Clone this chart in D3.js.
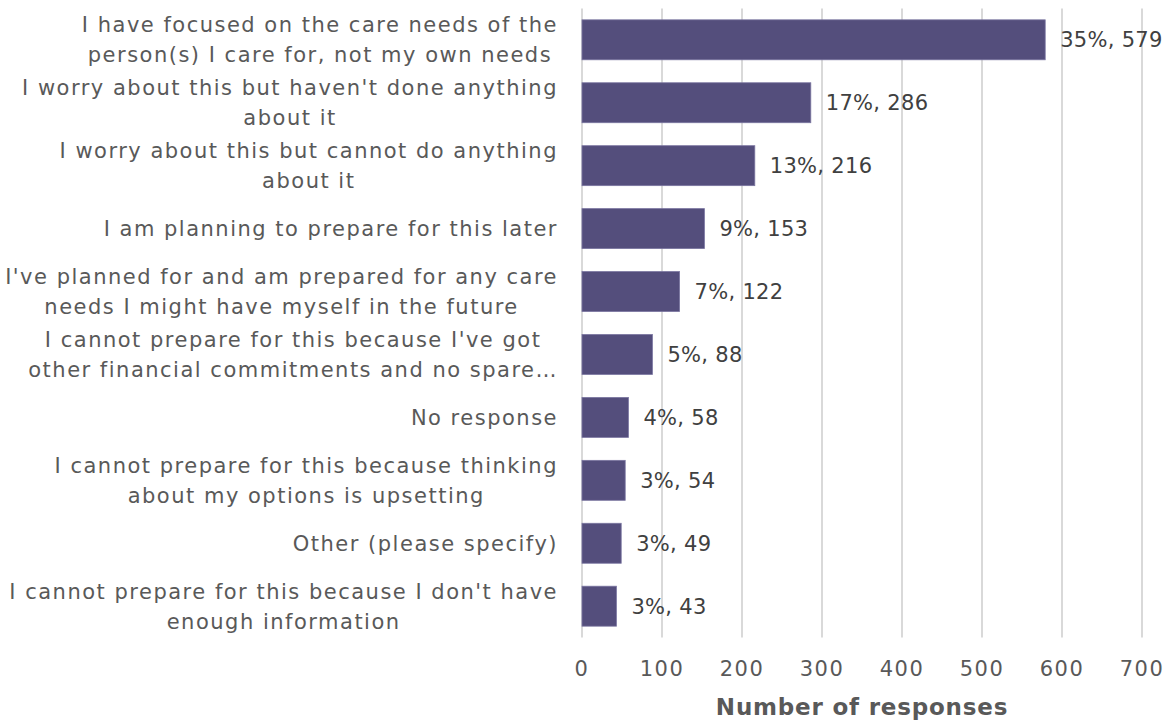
<!DOCTYPE html>
<html><head><meta charset="utf-8">
<script src="https://cdn.jsdelivr.net/npm/d3@7"></script>
<style>
html,body{margin:0;padding:0;background:#fff;}
svg{display:block;}
text{font-family:"DejaVu Sans","Noto Sans",sans-serif;}
</style></head>
<body>
<svg id="chart" width="1172" height="722"></svg>
<script>
const categories = [
  ["I have focused on the care needs of the", "person(s) I care for, not my own needs"],
  ["I worry about this but haven't done anything", "about it"],
  ["I worry about this but cannot do anything", "about it"],
  ["I am planning to prepare for this later"],
  ["I've planned for and am prepared for any care", "needs I might have myself in the future"],
  ["I cannot prepare for this because I've got", "other financial commitments and no spare…"],
  ["No response"],
  ["I cannot prepare for this because thinking", "about my options is upsetting"],
  ["Other (please specify)"],
  ["I cannot prepare for this because I don't have", "enough information"]
];
const counts = [579, 286, 216, 153, 122, 88, 58, 54, 49, 43];
const percents = ["35%", "17%", "13%", "9%", "7%", "5%", "4%", "3%", "3%", "3%"];
const xTicks = [0, 100, 200, 300, 400, 500, 600, 700];
const xTitle = "Number of responses";

const svg = d3.select("#chart");
const mLeft = 582, mRight = 1142, mTop = 8.5, mBottom = 637.5;
const x = d3.scaleLinear().domain([0, 700]).range([mLeft, mRight]);
const y = d3.scaleBand().domain(d3.range(categories.length)).range([mTop, mBottom]).paddingInner(0.365).paddingOuter(0.18);

// gridlines
svg.append("g").selectAll("line").data(xTicks).join("line")
  .attr("x1", d => x(d)).attr("x2", d => x(d))
  .attr("y1", mTop).attr("y2", mBottom)
  .attr("stroke", "#d9d9d9").attr("stroke-width", 2);

// bars
svg.append("g").selectAll("rect").data(counts).join("rect")
  .attr("x", x(0)).attr("y", (d, i) => y(i))
  .attr("width", d => x(d) - x(0)).attr("height", y.bandwidth())
  .attr("fill", "#544e7c").attr("stroke", "#7a75a0").attr("stroke-width", 0.8);

// value labels
svg.append("g").selectAll("text").data(counts).join("text")
  .attr("x", d => x(d) + 15).attr("y", (d, i) => y(i) + y.bandwidth() / 2)
  .attr("dy", "0.36em")
  .attr("font-size", 21).attr("letter-spacing", 0.3).attr("fill", "#404040")
  .text((d, i) => percents[i] + ", " + d);

// category labels
const labelRight = 558, lineH = 30, fs = 21;
const lab = svg.append("g").selectAll("text").data(categories).join("text")
  .attr("y", (d, i) => y(i) + y.bandwidth() / 2)
  .attr("text-anchor", "middle")
  .attr("font-size", fs).attr("letter-spacing", 1.5).attr("fill", "#595959");
lab.each(function(lines) {
  const t = d3.select(this);
  const n = lines.length;
  const spans = lines.map((ln, k) => t.append("tspan")
      .attr("dy", k === 0 ? ((-(n - 1) / 2) * lineH / fs + 0.36) + "em" : (lineH / fs) + "em")
      .text(ln));
  const w = d3.max(spans, s => s.node().getComputedTextLength());
  spans.forEach(s => s.attr("x", labelRight - w / 2));
});

// x tick labels
svg.append("g").selectAll("text").data(xTicks).join("text")
  .attr("x", d => x(d)).attr("y", 668).attr("dy", "0.36em")
  .attr("text-anchor", "middle").attr("font-size", 21).attr("letter-spacing", 1.5).attr("fill", "#595959")
  .text(d => d);

// axis title
svg.append("text").attr("x", (mLeft + mRight) / 2).attr("y", 707).attr("dy", "0.36em")
  .attr("text-anchor", "middle").attr("font-size", 23).attr("letter-spacing", 0.8).attr("font-weight", "bold")
  .attr("fill", "#595959").text(xTitle);
</script>
</body></html>
